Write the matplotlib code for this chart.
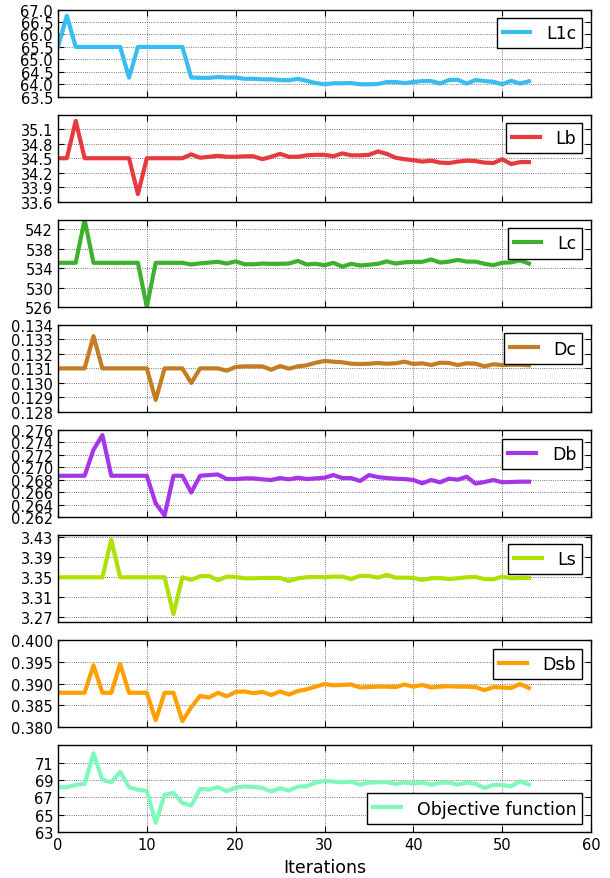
"""Convergence of the design variables over the optimisation iterations"""
import numpy as np
import matplotlib
matplotlib.use("Agg")
import matplotlib.pyplot as plt

iterations = list(range(54))

l1c = [65.5, 66.75, 65.5, 65.5, 65.5, 65.5, 65.5, 65.5, 64.27, 65.5,
       65.5, 65.5, 65.5, 65.5, 65.5, 64.27, 64.26, 64.26, 64.29, 64.27,
       64.27, 64.22, 64.22, 64.2, 64.2, 64.17, 64.16, 64.22, 64.14, 64.05,
       64.0, 64.04, 64.04, 64.05, 64.0, 64.0, 64.01, 64.09, 64.09, 64.05,
       64.09, 64.13, 64.13, 64.03, 64.17, 64.18, 64.03, 64.17, 64.13, 64.1,
       64.0, 64.14, 64.03, 64.12]

lb = [34.5, 34.5, 35.27, 34.5, 34.5, 34.5, 34.5, 34.5, 34.5, 33.76,
      34.5, 34.5, 34.5, 34.5, 34.5, 34.58, 34.51, 34.53, 34.55, 34.53,
      34.53, 34.54, 34.54, 34.48, 34.53, 34.59, 34.53, 34.53, 34.56, 34.57,
      34.57, 34.54, 34.6, 34.56, 34.56, 34.57, 34.64, 34.59, 34.51, 34.48,
      34.46, 34.43, 34.45, 34.41, 34.4, 34.43, 34.45, 34.44, 34.41, 34.4,
      34.48, 34.38, 34.42, 34.42]

lc = [535.1, 535.1, 535.1, 544.0, 535.1, 535.1, 535.1, 535.1, 535.1, 535.1,
      526.0, 535.1, 535.1, 535.1, 535.1, 534.75, 535.0, 535.15, 535.3, 534.95,
      535.4, 534.8, 534.8, 534.95, 534.9, 534.9, 534.95, 535.5, 534.75, 534.9,
      534.6, 535.1, 534.3, 534.9, 534.55, 534.7, 534.9, 535.4, 534.95, 535.2,
      535.3, 535.3, 535.8, 535.15, 535.35, 535.7, 535.35, 535.35, 534.9, 534.6,
      535.1, 535.2, 535.6, 534.95]

dc = [0.131, 0.131, 0.131, 0.131, 0.13322, 0.131, 0.131, 0.131, 0.131, 0.131,
      0.131, 0.12883, 0.131, 0.131, 0.131, 0.130, 0.131, 0.131, 0.131, 0.13084,
      0.1311, 0.13114, 0.13114, 0.13114, 0.13091, 0.13116, 0.13098, 0.13114, 0.13121, 0.13139,
      0.13151, 0.13146, 0.13142, 0.13132, 0.1313, 0.13132, 0.13137, 0.13132, 0.13135, 0.13146,
      0.1313, 0.13135, 0.13123, 0.13139, 0.13137, 0.13123, 0.13135, 0.13132, 0.13114, 0.13128,
      0.13123, 0.13125, 0.13125, 0.13121]

db = [0.26863, 0.26863, 0.26863, 0.26863, 0.2728, 0.27516, 0.26863, 0.26863, 0.26863, 0.26863,
      0.26863, 0.2642, 0.26226, 0.26863, 0.26863, 0.26595, 0.26863, 0.26874, 0.26884, 0.2681,
      0.2681, 0.26821, 0.26821, 0.26805, 0.26795, 0.26826, 0.26805, 0.26832, 0.2681, 0.26821,
      0.26832, 0.26874, 0.26826, 0.26826, 0.26779, 0.26874, 0.26842, 0.26826, 0.26816, 0.2681,
      0.26795, 0.26742, 0.26795, 0.26758, 0.26816, 0.268, 0.26847, 0.26737, 0.26763, 0.26795,
      0.26758, 0.26763, 0.26768, 0.26768]

ls = [3.35, 3.35, 3.35, 3.35, 3.35, 3.35, 3.4253, 3.35, 3.35, 3.35,
      3.35, 3.35, 3.35, 3.276, 3.35, 3.345, 3.352, 3.3527, 3.344, 3.3513,
      3.3507, 3.348, 3.348, 3.3487, 3.3487, 3.3487, 3.3426, 3.348, 3.35, 3.3507,
      3.35, 3.3513, 3.3513, 3.3466, 3.3527, 3.3527, 3.3493, 3.3547, 3.3493, 3.3493,
      3.3487, 3.3446, 3.348, 3.3487, 3.3466, 3.348, 3.35, 3.3507, 3.3466, 3.346,
      3.3513, 3.348, 3.3487, 3.3487]

dsb = [0.3879, 0.3879, 0.3879, 0.3879, 0.3942, 0.3879, 0.3879, 0.3945, 0.3879, 0.3879,
       0.3879, 0.3816, 0.3879, 0.3879, 0.3814, 0.3846, 0.3872, 0.3868, 0.3879, 0.3871,
       0.3881, 0.3882, 0.3878, 0.3881, 0.3874, 0.3882, 0.3875, 0.3883, 0.3887, 0.3893,
       0.3899, 0.3896, 0.3897, 0.3898, 0.3891, 0.3892, 0.3893, 0.3893, 0.3892, 0.3898,
       0.3893, 0.3897, 0.3891, 0.3893, 0.3894, 0.3893, 0.3893, 0.3892, 0.3885, 0.3892,
       0.3891, 0.389, 0.3899, 0.389]

objective = [68.17, 68.17, 68.43, 68.55, 72.06, 69.0, 68.74, 69.94, 68.17, 67.87,
             67.75, 64.09, 67.3, 67.49, 66.36, 66.06, 67.98, 67.9, 68.17, 67.72,
             68.13, 68.25, 68.2, 68.1, 67.68, 68.06, 67.79, 68.25, 68.28, 68.7,
             68.89, 68.81, 68.74, 68.81, 68.47, 68.7, 68.74, 68.77, 68.55, 68.7,
             68.58, 68.7, 68.47, 68.66, 68.7, 68.47, 68.7, 68.55, 68.09, 68.43,
             68.43, 68.28, 68.85, 68.47]

labels = ["L1c", "Lb", "Lc", "Dc", "Db", "Ls", "Dsb", "Objective function"]
colors = ["#38bdf0", "#e8393f", "#3db030", "#c47d24",
          "#a634e8", "#aee000", "#ffa000", "#80f8bc"]
y_limits = [(63.5, 67.0), (33.6, 35.4), (526, 544), (0.128, 0.134),
            (0.262, 0.276), (3.26, 3.435), (0.380, 0.400), (63, 73)]
y_ticks = [np.arange(63.5, 67.01, 0.5), np.arange(33.6, 35.11, 0.3),
           np.arange(526, 543, 4), np.arange(0.128, 0.13401, 0.001),
           np.arange(0.262, 0.27601, 0.002), np.arange(3.27, 3.431, 0.04),
           np.arange(0.380, 0.40001, 0.005), np.arange(63, 72, 2)]
y_formats = ["%.1f", "%.1f", "%d", "%.3f", "%.3f", "%.2f", "%.3f", "%d"]

plt.rcParams.update({
    "font.family": "DejaVu Sans",
    "xtick.direction": "in",
    "ytick.direction": "in",
    "xtick.top": True,
    "ytick.right": True,
    "xtick.major.size": 4,
    "ytick.major.size": 4,
    "xtick.labelsize": 10.5,
    "ytick.labelsize": 10.5,
    "axes.linewidth": 1.0,
})


def main():
    series = [l1c, lb, lc, dc, db, ls, dsb, objective]
    fig, axes = plt.subplots(8, 1, figsize=(6.1, 8.79), dpi=100, sharex=True)
    fig.subplots_adjust(left=0.095, right=0.969, top=0.988, bottom=0.052, hspace=0.205)

    for i, ax in enumerate(axes):
        ax.plot(iterations, series[i], color=colors[i], lw=3, label=labels[i])
        ax.set_xlim(0, 60)
        ax.set_ylim(*y_limits[i])
        ax.set_yticks(y_ticks[i])
        ax.set_yticklabels([y_formats[i] % v for v in y_ticks[i]])
        ax.set_xticks(range(0, 61, 10))
        ax.grid(True, color="black", linestyle=":", linewidth=0.6, alpha=0.7)
        loc = "lower right" if i == len(axes) - 1 else "upper right"
        leg = ax.legend(loc=loc, fontsize=12.5, fancybox=False, framealpha=1,
                        handlelength=1.6, handletextpad=0.9, borderpad=0.35)
        leg.get_frame().set_edgecolor("black")
        leg.get_frame().set_linewidth(1.0)

    axes[-1].set_xlabel("Iterations", fontsize=12.5)
    fig.savefig("out.png", dpi=100, facecolor="white")


if __name__ == "__main__":
    main()
